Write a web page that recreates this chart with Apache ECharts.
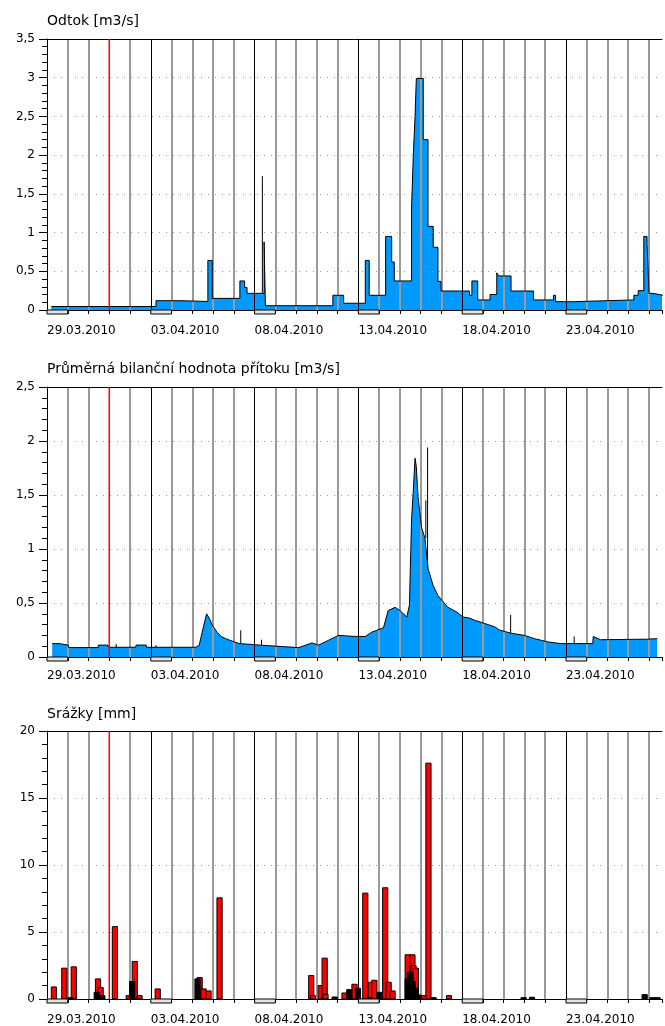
<!DOCTYPE html>
<html><head><meta charset="utf-8">
<script src="https://cdn.jsdelivr.net/npm/echarts@6/dist/echarts.min.js"></script>
<style>html,body{margin:0;padding:0;background:#fff}#c{width:665px;height:1026px}</style>
</head><body><div id="c"></div>
<script>
// ---------- data (times are 2010, "MM-DD HH:MM") ----------
const titles = ['Odtok [m3/s]', 'Průměrná bilanční hodnota přítoku [m3/s]', 'Srážky [mm]'];
const yMax = [3.5, 2.5, 20];
const yStep = [0.5, 0.5, 5];
const labelEvery = 5;            // a date label every 5 days
const redLineTime = '04-01 00:00';
const barHours = 6;

const odtok = [
  ['03-29 05:00',0.045],['04-03 06:00',0.12],['04-04 11:00',0.11],['04-05 18:00',0.64],
  ['04-05 23:00',0.15],['04-07 07:00',0.375],['04-07 12:30',0.29],['04-07 15:15',0.215],
  ['04-08 11:00',0.88],['04-08 12:30',0.055],['04-11 18:30',0.19],['04-12 07:00',0.087],
  ['04-13 08:00',0.64],['04-13 12:30',0.19],['04-14 07:30',0.95],['04-14 14:30',0.62],
  ['04-14 17:30',0.375],['04-15 13:30',1.33],['04-15 15:30',2.0],['04-15 17:30',2.5],
  ['04-15 19:00',2.99],['04-16 03:00',2.2],['04-16 08:30',1.08],['04-16 14:30',0.81],
  ['04-16 20:00',0.37],['04-16 23:30',0.245],['04-18 08:30',0.19],['04-18 11:15',0.375],
  ['04-18 18:00',0.13],['04-19 08:15',0.2],['04-19 16:00',0.48],['04-19 18:15',0.44],
  ['04-20 08:30',0.245],['04-21 10:30',0.13],['04-22 09:30',0.19],['04-22 12:00',0.107],
  ['04-23 07:30',0.13],['04-26 06:30',0.19],['04-26 11:30',0.25],['04-26 18:00',0.95],
  ['04-26 21:45',0.86],['04-27 00:00',0.215],['04-27 04:45',0.19],['04-27 16:00',0.19]
];
const odtokSpikes = [['04-08 09:00',0.215,1.73]];

const pritok = [
  ['03-29 06:00',0.124],['03-29 14:00',0.124],['03-29 14:30',0.11],['03-30 00:30',0.11],
  ['03-30 01:00',0.087],['03-31 11:00',0.087],['03-31 11:30',0.11],['03-31 22:30',0.11],
  ['03-31 23:00',0.09],['04-02 06:30',0.09],['04-02 07:00',0.11],['04-02 18:45',0.11],
  ['04-02 19:00',0.09],['04-05 04:00',0.09],['04-05 08:00',0.11],['04-05 12:00',0.25],
  ['04-05 16:30',0.40],['04-05 19:30',0.36],['04-05 23:30',0.29],['04-06 04:30',0.23],
  ['04-06 09:30',0.19],['04-06 14:30',0.17],['04-07 00:30',0.14],['04-07 06:00',0.124],
  ['04-07 23:30',0.115],['04-08 05:00',0.11],['04-10 03:00',0.087],['04-10 18:30',0.13],
  ['04-11 02:00',0.11],['04-11 13:30',0.155],['04-12 01:00',0.2],['04-12 20:30',0.19],
  ['04-13 08:00',0.19],['04-13 15:30',0.23],['04-14 05:00',0.27],['04-14 10:30',0.43],
  ['04-14 18:30',0.46],['04-15 00:00',0.43],['04-15 08:00',0.37],['04-15 11:00',0.48],
  ['04-15 13:30',1.27],['04-15 15:30',1.54],['04-15 17:30',1.84],['04-15 19:00',1.76],
  ['04-15 21:00',1.48],['04-16 01:00',1.2],['04-16 05:00',1.1],['04-16 08:30',0.82],
  ['04-16 14:30',0.66],['04-16 20:00',0.57],['04-17 02:00',0.51],['04-17 07:30',0.46],
  ['04-17 17:00',0.42],['04-18 01:00',0.37],['04-18 08:30',0.36],['04-18 14:30',0.34],
  ['04-19 02:00',0.31],['04-19 13:30',0.28],['04-19 19:00',0.25],['04-20 08:30',0.22],
  ['04-21 00:00',0.2],['04-21 11:30',0.17],['04-22 03:00',0.14],['04-22 18:00',0.124],
  ['04-24 07:00',0.124],['04-24 07:30',0.19],['04-24 16:00',0.16],['04-26 21:45',0.165],
  ['04-26 23:00',0.17],['04-27 09:30',0.17]
];
const pritokSpikes = [
  ['04-01 08:00',0.087,0.12],['04-03 06:00',0.09,0.11],['04-07 08:00',0.124,0.247],
  ['04-08 08:00',0.11,0.16],['04-16 06:00',1.1,1.45],['04-16 08:00',0.82,1.94],
  ['04-20 08:00',0.22,0.39],['04-23 09:30',0.124,0.19]
];

const srazkyRed = [
  ['03-29 05:00',0.9],['03-29 17:00',2.3],['03-30 04:00',2.4],['03-31 08:00',1.5],
  ['03-31 11:00',0.85],['04-01 03:30',5.4],['04-01 19:30',0.25],['04-02 02:30',2.8],
  ['04-02 08:00',0.25],['04-03 05:00',0.75],['04-05 05:30',1.6],['04-05 10:00',0.75],
  ['04-05 15:45',0.6],['04-06 04:30',7.55],['04-10 14:30',1.75],['04-10 16:30',0.25],
  ['04-11 01:30',1.0],['04-11 06:00',3.05],['04-11 07:00',0.35],['04-12 05:00',0.45],
  ['04-12 16:30',1.1],['04-13 05:00',7.9],['04-13 11:30',1.25],['04-13 15:30',1.4],
  ['04-14 04:00',8.3],['04-14 08:00',1.25],['04-14 12:30',0.6],['04-15 06:00',3.3],
  ['04-15 11:30',3.3],['04-15 12:45',2.5],['04-15 15:30',2.3],['04-16 01:00',0.25],
  ['04-16 06:00',17.6],['04-17 05:45',0.25]
];
const srazkyBlack = [
  ['03-30 00:30',0.1],['03-31 06:30',0.5],['03-31 13:00',0.25],['04-01 23:30',1.3],
  ['04-05 03:00',1.5],['04-11 17:30',0.15],['04-12 10:30',0.7],['04-12 20:30',0.8],
  ['04-13 10:00',0.1],['04-13 21:00',0.5],['04-15 06:00',1.5],['04-15 08:30',2.0],
  ['04-15 12:00',1.3],['04-15 15:30',0.8],['04-15 19:00',0.3],['04-16 12:00',0.1],
  ['04-20 20:00',0.1],['04-21 05:45',0.13],['04-26 16:00',0.33],['04-27 01:00',0.1],
  ['04-27 07:00',0.1]
];

// ---------- helpers ----------
const T0 = Date.UTC(2010, 2, 29);
function day(s) {
  const [md, hm] = s.split(' ');
  const [M, D] = md.split('-').map(Number);
  const [h, m] = hm.split(':').map(Number);
  return (Date.UTC(2010, M - 1, D, h, m) - T0) / 864e5;
}
function fmtDate(d) {
  const dt = new Date(T0 + d * 864e5);
  const p = n => String(n).padStart(2, '0');
  return p(dt.getUTCDate()) + '.' + p(dt.getUTCMonth() + 1) + '.' + dt.getUTCFullYear();
}
const XMAX = 618 / 20.86;
const FONT = 'DejaVu Sans';
const redDay = day(redLineTime);
const nTicks = Math.ceil(XMAX) + 2;
const grayCols = [], darkCols = [];
for (let i = 0; i < nTicks; i++) {
  const isBlack = i % labelEvery === 0;
  const isRed = Math.abs(i - redDay) < 1e-6;
  grayCols.push(isBlack || isRed ? 'rgba(0,0,0,0)' : '#9a9a9a');
  darkCols.push(isBlack ? '#000000' : 'rgba(0,0,0,0)');
}
const labelDays = [];
for (let d = 0; d < XMAX; d += labelEvery) labelDays.push([d, 0]);

const grids = [
  {left: 47, right: 0, top: 39, height: 271},
  {left: 47, right: 0, top: 387, height: 270},
  {left: 47, right: 0, top: 731, height: 270}
];
const titleTops = [14, 362, 707];
const labelMargins = [15, 13, 15];

const xAxis = [], yAxis = [], series = [];
grids.forEach((g, i) => {
  xAxis.push({
    type: 'value', gridIndex: i, min: 0, max: XMAX, interval: 1, position: 'bottom', z: 3,
    axisLine: {show: true, onZero: false, lineStyle: {color: '#000', width: 1}},
    axisTick: {show: true, length: 4, lineStyle: {color: '#000'}},
    axisLabel: {
      show: true, align: 'left', margin: labelMargins[i], color: '#000', fontSize: 12, fontFamily: FONT,
      formatter: v => (Math.abs(v - Math.round(v)) < 1e-6 && Math.round(v) % labelEvery === 0) ? fmtDate(Math.round(v)) : ''
    },
    splitLine: {show: true, showMaxLine: false, lineStyle: {color: grayCols, width: 2}}
  });
  xAxis.push({
    type: 'value', gridIndex: i, min: 0, max: XMAX, interval: 1, position: 'top', z: 3,
    axisLine: {show: true, onZero: false, lineStyle: {color: '#000', width: 1}},
    axisTick: {show: false}, axisLabel: {show: false},
    splitLine: {show: true, showMaxLine: false, lineStyle: {color: darkCols, width: 1}}
  });
  yAxis.push({
    type: 'value', gridIndex: i, min: 0, max: yMax[i], interval: yStep[i], z: 3,
    axisLine: {show: true, lineStyle: {color: '#000', width: 1}},
    axisTick: {show: true, length: 8, lineStyle: {color: '#000'}},
    minorTick: {show: true, splitNumber: 5, length: 5, lineStyle: {color: '#000'}},
    axisLabel: {margin: 12, color: '#000', fontSize: 12, fontFamily: FONT,
      formatter: v => String(v).replace('.', ',')},
    splitLine: {show: true, lineStyle: {color: '#9a9a9a', width: 1, type: [1, 6]}}
  });
  // bracket under each labelled day
  series.push({
    type: 'custom', xAxisIndex: 2 * i, yAxisIndex: i, data: labelDays, clip: false, silent: true, z: 6,
    renderItem: (p, api) => {
      const a = api.coord([api.value(0), 0]);
      const b = api.coord([api.value(0) + 1, 0]);
      return {type: 'rect', shape: {x: a[0], y: a[1], width: b[0] - a[0], height: 4},
        style: {fill: '#e4e4e4', stroke: '#000', lineWidth: 1}};
    }
  });
  // red marker line: a two-point vertical line series
  series.push({
    type: 'line', xAxisIndex: 2 * i, yAxisIndex: i, z: 8, symbol: 'none', silent: true,
    data: [[redDay, 0], [redDay, yMax[i]]],
    lineStyle: {color: '#ff0000', width: 1.5}, emphasis: {disabled: true}
  });
});

const odtokData = odtok.map(r => [day(r[0]), r[1]]);
const pritokData = pritok.map(r => [day(r[0]), r[1]]);
const spikeItem = (p, api) => {
  const a = api.coord([api.value(0), api.value(1)]);
  const b = api.coord([api.value(0), api.value(2)]);
  return {type: 'line', shape: {x1: a[0], y1: a[1], x2: b[0], y2: b[1]}, style: {stroke: '#000', lineWidth: 1}};
};
const barItem = fill => (p, api) => {
  const x0 = api.value(0);
  const a = api.coord([x0, api.value(1)]);
  const b = api.coord([x0 + barHours / 24, 0]);
  return {type: 'rect', shape: {x: a[0], y: a[1], width: b[0] - a[0], height: b[1] - a[1]},
    style: {fill: fill, stroke: '#000', lineWidth: 1}};
};

// Panel 1
series.push({type: 'line', xAxisIndex: 0, yAxisIndex: 0, step: 'end', data: odtokData, symbol: 'none', z: 1,
  lineStyle: {width: 0, opacity: 0}, areaStyle: {color: '#0099ff', opacity: 1}});
series.push({type: 'line', xAxisIndex: 0, yAxisIndex: 0, step: 'end', data: odtokData, symbol: 'none', z: 4,
  lineStyle: {width: 1, color: '#000'}});
series.push({type: 'custom', xAxisIndex: 0, yAxisIndex: 0, z: 4, renderItem: spikeItem,
  data: odtokSpikes.map(r => [day(r[0]), r[1], r[2]])});
// Panel 2
series.push({type: 'line', xAxisIndex: 2, yAxisIndex: 1, data: pritokData, symbol: 'none', z: 1,
  lineStyle: {width: 0, opacity: 0}, areaStyle: {color: '#0099ff', opacity: 1}});
series.push({type: 'line', xAxisIndex: 2, yAxisIndex: 1, data: pritokData, symbol: 'none', z: 4,
  lineStyle: {width: 1, color: '#000'}});
series.push({type: 'custom', xAxisIndex: 2, yAxisIndex: 1, z: 4, renderItem: spikeItem,
  data: pritokSpikes.map(r => [day(r[0]), r[1], r[2]])});
// Panel 3
series.push({type: 'custom', xAxisIndex: 4, yAxisIndex: 2, z: 4, renderItem: barItem('#ff0000'),
  data: srazkyRed.map(r => [day(r[0]), r[1]])});
series.push({type: 'custom', xAxisIndex: 4, yAxisIndex: 2, z: 5, renderItem: barItem('#000000'),
  data: srazkyBlack.map(r => [day(r[0]), r[1]])});

const chart = echarts.init(document.getElementById('c'));
chart.setOption({
  animation: false,
  backgroundColor: '#fff',
  textStyle: {fontFamily: FONT},
  title: titles.map((t, i) => ({text: t, left: 47, top: titleTops[i], padding: 0,
    textStyle: {fontSize: 14, fontWeight: 'normal', color: '#000', fontFamily: FONT}})),
  grid: grids, xAxis: xAxis, yAxis: yAxis, series: series
});
</script></body></html>
